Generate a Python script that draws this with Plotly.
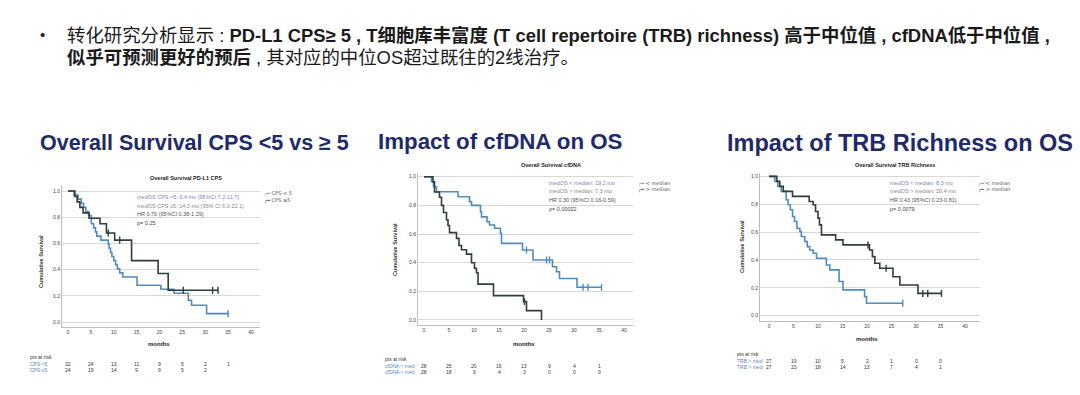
import numpy as np
import plotly.graph_objects as go

# ---------------- data ----------------
x_ticks = [0, 5, 10, 15, 20, 25, 30, 35, 40]
y_ticks = [0.0, 0.2, 0.4, 0.6, 0.8, 1.0]
risk_months = [0, 5, 10, 15, 20, 25, 30, 35]

# Chart 1: PD-L1 CPS
cps_lo_t = [0, 1.3, 2.2, 2.9, 3.4, 3.9, 4.5, 5.1, 5.6, 6.0, 6.3, 7.2, 8.8, 9.0, 9.3, 9.6, 10.0, 10.4, 10.8, 11.3, 12.0, 15.1, 20.3, 23.2, 26.3, 27.0, 30.3]
cps_lo_s = [1.0, 0.969, 0.938, 0.906, 0.875, 0.844, 0.813, 0.75, 0.719, 0.688, 0.656, 0.625, 0.594, 0.563, 0.531, 0.50, 0.469, 0.438, 0.406, 0.375, 0.344, 0.281, 0.25, 0.22, 0.166, 0.128, 0.064]
cps_lo_cens = [35.0]
cps_hi_t = [0, 1.5, 2.0, 2.6, 3.3, 4.6, 7.0, 8.4, 10.2, 13.9, 19.7, 21.9]
cps_hi_s = [1.0, 0.958, 0.917, 0.875, 0.833, 0.792, 0.75, 0.68, 0.625, 0.469, 0.37, 0.242]
cps_hi_cens = [8.8, 11.3, 25.2, 31.6, 32.8]
cps_lo_risk = [32, 24, 13, 11, 9, 5, 2, 1]
cps_hi_risk = [24, 19, 14, 9, 9, 5, 2]

# Chart 2: cfDNA
cf_lo_t = [0, 1.5, 1.9, 2.5, 6.8, 9.1, 9.5, 11.3, 11.5, 12.6, 13.1, 14.1, 15.3, 15.5, 19.7, 21.8, 25.7, 26.5, 27.1, 30.6]
cf_lo_s = [1.0, 0.965, 0.93, 0.895, 0.86, 0.826, 0.80, 0.756, 0.72, 0.686, 0.663, 0.64, 0.605, 0.535, 0.488, 0.419, 0.372, 0.337, 0.29, 0.228]
cf_lo_cens = [20.5, 24.5, 25.1, 31.8, 32.8, 35.5]
cf_hi_t = [0, 1.8, 2.1, 3.1, 3.5, 3.9, 4.5, 4.8, 5.1, 6.5, 7.0, 7.5, 8.5, 9.5, 10.1, 10.5, 10.8, 13.9, 19.9, 20.5, 23.5]
cf_hi_s = [1.0, 0.964, 0.893, 0.857, 0.80, 0.75, 0.70, 0.66, 0.61, 0.57, 0.52, 0.49, 0.46, 0.40, 0.36, 0.33, 0.25, 0.17, 0.128, 0.065, 0.0]
cf_hi_cens = [20.1]
cf_lo_risk = [28, 25, 20, 16, 13, 9, 4, 1]
cf_hi_risk = [28, 18, 9, 4, 3, 0, 0, 0]

# Chart 3: TRB richness
trb_lo_t = [0, 1.2, 1.8, 2.5, 3.5, 3.9, 4.35, 4.8, 5.2, 5.7, 6.3, 6.6, 7.3, 7.8, 8.3, 9.0, 9.7, 11.7, 12.4, 14.3, 15.1, 19.5, 19.9]
trb_lo_s = [1.0, 0.964, 0.928, 0.892, 0.832, 0.796, 0.76, 0.712, 0.676, 0.628, 0.604, 0.568, 0.532, 0.496, 0.472, 0.448, 0.412, 0.364, 0.329, 0.245, 0.185, 0.137, 0.089]
trb_lo_cens = [27.3]
trb_hi_t = [0, 1.6, 2.2, 2.9, 4.8, 8.2, 9.0, 9.5, 10.0, 10.3, 10.7, 13.6, 15.1, 20.5, 21.1, 21.6, 22.6, 25.3, 26.7, 30.4]
trb_hi_s = [1.0, 0.964, 0.928, 0.892, 0.856, 0.82, 0.796, 0.748, 0.70, 0.652, 0.58, 0.544, 0.508, 0.472, 0.424, 0.376, 0.34, 0.28, 0.22, 0.16]
trb_hi_cens = [20.2, 23.9, 31.4, 32.4, 35.2]
trb_lo_risk = [27, 19, 10, 5, 2, 1, 0, 0]
trb_hi_risk = [27, 23, 18, 14, 13, 7, 4, 1]

BLUE = "#4f8cbf"
DARK = "#2f3d3b"
NAVY = "#1f2a6b"
GRID = "#d8d8d8"
W, H = 1080, 395


def py(p):
    return 1 - p / H


def px(p):
    return p / W


fig = go.Figure()


def add_curve(t, s, cens, color, name, ax):
    t = list(t)
    s = list(s)
    end = max([t[-1]] + list(cens))
    xs = t + ([end] if end > t[-1] else [])
    ys = s + ([s[-1]] if end > t[-1] else [])
    fig.add_trace(go.Scatter(x=xs, y=ys, mode="lines", line=dict(color=color, width=1.6, shape="hv"),
                             name=name, xaxis="x" + ax, yaxis="y" + ax, showlegend=False))
    ta = np.array(t)
    sa = np.array(s)
    cy = [sa[np.searchsorted(ta, c, side="right") - 1] for c in cens]
    fig.add_trace(go.Scatter(x=cens, y=cy, mode="markers",
                             marker=dict(symbol="line-ns-open", size=5, color=color, line=dict(color=color, width=1.4)),
                             xaxis="x" + ax, yaxis="y" + ax, showlegend=False, hoverinfo="skip"))


add_curve(cps_lo_t, cps_lo_s, cps_lo_cens, BLUE, "CPS < 5", "")
add_curve(cps_hi_t, cps_hi_s, cps_hi_cens, DARK, "CPS ≥5", "")
add_curve(cf_lo_t, cf_lo_s, cf_lo_cens, BLUE, "< median", "2")
add_curve(cf_hi_t, cf_hi_s, cf_hi_cens, DARK, "> median", "2")
add_curve(trb_lo_t, trb_lo_s, trb_lo_cens, BLUE, "< median", "3")
add_curve(trb_hi_t, trb_hi_s, trb_hi_cens, DARK, "> median", "3")

# axis geometry (pixel positions)
charts = [
    dict(ax="", xd=(62, 260), xr=(-1.31, 41.97), yd=(327, 185), yr=(-0.038, 1.046)),
    dict(ax="2", xd=(418, 633), xr=(-1.2, 41.8), yd=(325, 173), yr=(-0.035, 1.026)),
    dict(ax="3", xd=(760, 980), xr=(-1.84, 43.06), yd=(321, 173), yr=(-0.038, 1.024)),
]
tickfont = dict(family="Liberation Sans", size=5, color="#444")
for c in charts:
    a = c["ax"]
    fig.layout["xaxis" + a] = dict(domain=[px(c["xd"][0]), px(c["xd"][1])], range=list(c["xr"]),
                                   anchor="y" + a, tickvals=x_ticks, showgrid=False, zeroline=False,
                                   showline=True, linecolor="#bdbdbd", linewidth=1, tickfont=tickfont,
                                   ticks="", fixedrange=True)
    fig.layout["yaxis" + a] = dict(domain=[py(c["yd"][0]), py(c["yd"][1])], range=list(c["yr"]),
                                   anchor="x" + a, tickvals=y_ticks, ticktext=[f"{v:.1f}" for v in y_ticks],
                                   showgrid=True, gridcolor=GRID, gridwidth=1, zeroline=False,
                                   showline=True, linecolor="#bdbdbd", linewidth=1, tickfont=tickfont,
                                   ticks="", fixedrange=True)

ann = []


def text(x, y, s, size=5.5, color="#333", xanchor="left", bold=False, xref="paper", angle=0, family="Liberation Sans"):
    ann.append(dict(x=x if xref != "paper" else px(x), y=py(y), xref=xref, yref="paper", text=(f"<b>{s}</b>" if bold else s),
                    showarrow=False, xanchor=xanchor, yanchor="middle", textangle=angle,
                    font=dict(family=family, size=size, color=color)))


# header text
CJK = "Liberation Sans, Noto Sans CJK SC"
text(38, 34, "•", size=15, color="#222", family=CJK)
text(65, 35, "转化研究分析显示 : <b>PD-L1 CPS≥ 5 , T细胞库丰富度 (T cell repertoire (TRB) richness) 高于中位值 , cfDNA低于中位值 ,</b>",
     size=18.4, color="#1a1a1a", family=CJK)
text(65, 57, "<b>似乎可预测更好的预后</b> , 其对应的中位OS超过既往的2线治疗。", size=18.4, color="#1a1a1a", family=CJK)

# big titles
text(38, 143, "Overall Survival CPS <5 vs ≥ 5", size=21.5, color=NAVY, bold=True)
text(376, 141, "Impact of cfDNA on OS", size=22.3, color=NAVY, bold=True)
text(725, 143, "Impact of TRB Richness on OS", size=23.5, color=NAVY, bold=True)

# small chart titles
text(186, 178, "Overall Survival PD-L1 CPS", size=5.5, color="#222", xanchor="center", bold=True)
text(551, 165, "Overall Survival cfDNA", size=5.5, color="#222", xanchor="center", bold=True)
text(895, 165, "Overall Survival TRB Richness", size=5.5, color="#222", xanchor="center", bold=True)

# y titles
text(41, 262, "Cumulative Survival", size=5.5, color="#333", xanchor="center", bold=True, angle=-90)
text(395, 250, "Cumulative Survival", size=5.5, color="#333", xanchor="center", bold=True, angle=-90)
text(742, 247, "Cumulative Survival", size=5.5, color="#333", xanchor="center", bold=True, angle=-90)

# stats text
C1, C2, C3, C4 = "#7d86b8", "#8a8a8a", "#555", "#444"
for (x0, y0, lines) in [
    (135, 197, ["medOS CPS <5: 9.4 mo (95%CI 7.2-11.7)", "medOS CPS ≥5: 14.0 mo (95% CI 6.0-22.1)",
                "HR 0.70 (95%CI 0.38-1.29)", "p= 0.25"]),
    (547, 183, ["medOS < median: 19.2 mo", "medOS > median: 7.3 mo", "HR 0.30 (95%CI 0.16-0.59)", "p= 0.00022"]),
    (888, 183, ["medOS < median: 8.3 mo", "medOS > median: 20.4 mo", "HR 0.43 (95%CI 0.23-0.81)", "p= 0.0079"]),
]:
    for i, (ln, col) in enumerate(zip(lines, [C1, C2, C3, C4])):
        text(x0, y0 + 8.5 * i, ln, size=5.5, color=col)

# legends (small step glyph + label)
for (x0, y0, labels) in [
    (262, 194, ["CPS < 5", "CPS ≥5"]),
    (636, 183, ["< median", "> median"]),
    (976, 183, ["< median", "> median"]),
]:
    for i, (lab, col) in enumerate(zip(labels, [BLUE, DARK])):
        ann.append(dict(x=px(x0), y=py(y0 + 6.5 * i), xref="paper", yref="paper", showarrow=False,
                        xanchor="left", yanchor="middle",
                        text=f"<span style='color:{col}'><b>╭━</b></span> {lab}",
                        font=dict(family="DejaVu Sans", size=5, color="#555")))

# months labels
text(20, 344, "months", size=6, color="#222", xanchor="center", bold=True, xref="x")
text(20, 344, "months", size=6, color="#222", xanchor="center", bold=True, xref="x2")
text(20, 339, "months", size=6, color="#222", xanchor="center", bold=True, xref="x3")

# risk tables
RL = "#5b86b8"
for (xl, y0, ax, labels, rows) in [
    (28, 357, "x", ["CPS <5", "CPS ≥5"], [cps_lo_risk, cps_hi_risk]),
    (383, 359, "x2", ["cfDNA < med", "cfDNA > med"], [cf_lo_risk, cf_hi_risk]),
    (735, 354, "x3", ["TRB < med", "TRB > med"], [trb_lo_risk, trb_hi_risk]),
]:
    text(xl, y0, "pts at risk", size=5, color="#333")
    for r, (lab, vals) in enumerate(zip(labels, rows)):
        yy = y0 + 6.5 * (r + 1)
        text(xl, yy, lab, size=5, color=RL)
        for m, v in zip(risk_months, vals):
            text(m, yy, str(v), size=5, color="#333", xanchor="center", xref=ax)

fig.update_layout(
    width=W, height=H, margin=dict(l=0, r=0, t=0, b=0),
    paper_bgcolor="white", plot_bgcolor="white",
    annotations=ann, showlegend=False,
)

fig.write_html("out.html", config={"displayModeBar": False},
               post_script="document.body.style.margin='0px';document.body.style.overflow='hidden';")
